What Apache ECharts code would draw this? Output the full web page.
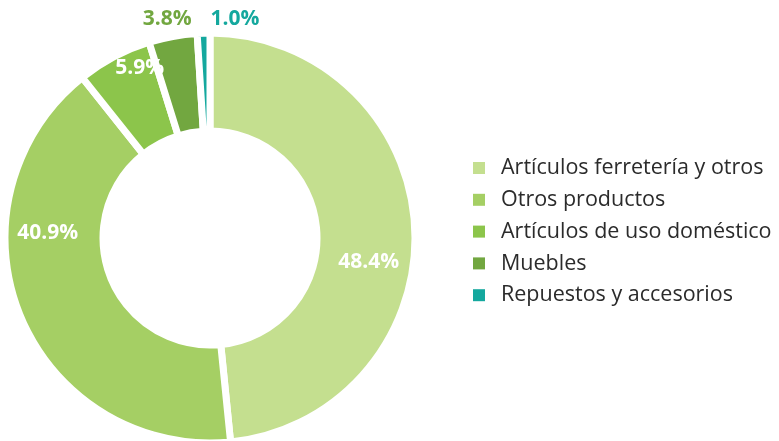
<!DOCTYPE html>
<html>
<head>
<meta charset="utf-8">
<script src="https://cdn.jsdelivr.net/npm/echarts@6/dist/echarts.min.js"></script>
<style>html,body{margin:0;padding:0;background:#fff}#c{width:779px;height:441px}</style>
</head>
<body>
<div id="c"></div>
<script>
const categories = ["Artículos ferretería y otros", "Otros productos", "Artículos de uso doméstico", "Muebles", "Repuestos y accesorios"];
const values = [48.4, 40.9, 5.9, 3.8, 1.0];

const colors = ["#c4df8f", "#a5cf64", "#8cc54b", "#72a740", "#14a89e"];
const labelStyles = [
  { offset: [0, 32], color: "#ffffff" },
  { offset: [-15, -65], color: "#ffffff" },
  { offset: [4, -29], color: "#ffffff" },
  { offset: [-14, -63], color: "#72a740" },
  { offset: [30, -60], color: "#14a89e" }
];

const chart = echarts.init(document.getElementById('c'), null, { renderer: 'canvas' });
chart.setOption({
  animation: false,
  color: colors,
  legend: {
    orient: 'vertical',
    left: 468,
    top: 152,
    icon: 'rect',
    itemWidth: 12,
    itemHeight: 12,
    itemGap: 9.8,
    itemStyle: { borderWidth: 0 },
    textStyle: { fontFamily: 'Open Sans', fontSize: 21.5, color: '#2b2b2b', padding: [0, 0, 0, 11] },
    data: categories
  },
  series: [{
    type: 'pie',
    center: [210, 238],
    radius: [107, 205],
    startAngle: 90,
    clockwise: true,
    avoidLabelOverlap: false,
    itemStyle: { borderColor: '#ffffff', borderWidth: 7 },
    label: {
      show: true,
      position: 'inside',
      fontFamily: 'Open Sans',
      fontWeight: 'bold',
      fontSize: 21,
      formatter: p => p.value.toFixed(1) + '%'
    },
    labelLine: { show: false },
    emphasis: { disabled: true },
    data: categories.map((n, i) => ({
      name: n,
      value: values[i],
      label: labelStyles[i]
    }))
  }]
});
</script>
</body>
</html>
